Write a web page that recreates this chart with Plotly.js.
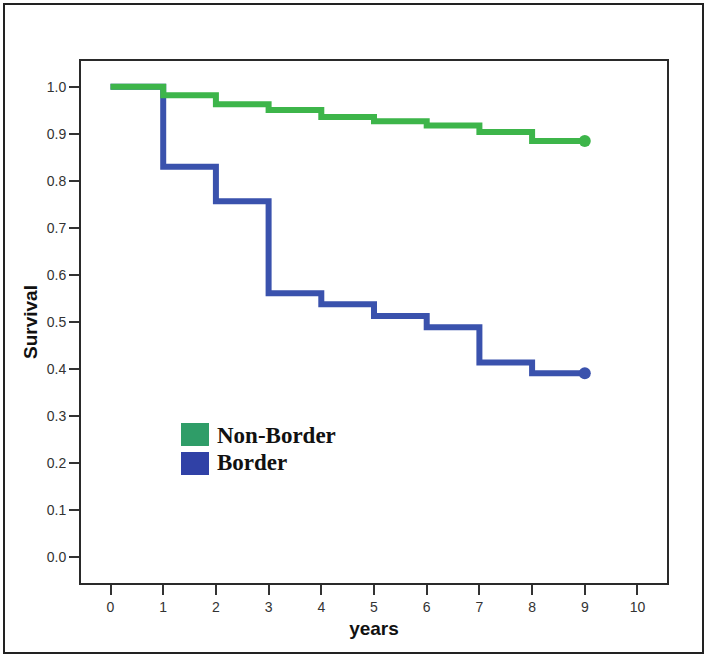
<!DOCTYPE html>
<html>
<head>
<meta charset="utf-8">
<script src="https://cdn.plot.ly/plotly-3.0.1.min.js"></script>
<style>
  html, body { margin: 0; padding: 0; background: #ffffff; }
  #wrap { position: relative; width: 705px; height: 655px; }
  #chart { position: absolute; left: 0; top: 0; width: 705px; height: 655px; }
  #frame { position: absolute; left: 3px; top: 3px; width: 697px; height: 647px;
           border: 2px solid #222; pointer-events: none; }
</style>
</head>
<body>
<div id="wrap">
  <div id="chart"></div>
  <div id="frame"></div>
</div>
<script>
// Data
var years = [0, 1, 2, 3, 4, 5, 6, 7, 8, 9];
var nonBorder = [1.0, 0.982, 0.963, 0.951, 0.936, 0.927, 0.918, 0.904, 0.885, 0.885];
var border = [1.0, 0.830, 0.757, 0.561, 0.538, 0.513, 0.489, 0.414, 0.391, 0.391];
var seriesNames = ["Non-Border", "Border"];
var xTicks = [0, 1, 2, 3, 4, 5, 6, 7, 8, 9, 10];
var yTicks = [0.0, 0.1, 0.2, 0.3, 0.4, 0.5, 0.6, 0.7, 0.8, 0.9, 1.0];

var greenLine = "#3db54a";
var blueLine = "#3a52ad";
var greenKey = "#2f9d68";
var blueKey = "#3041a6";

var last = years.length - 1;

var traces = [
  { x: years, y: border, mode: "lines", line: { shape: "hv", color: blueLine, width: 6 },
    name: seriesNames[1], showlegend: false, hoverinfo: "x+y" },
  { x: [years[last]], y: [border[last]], mode: "markers",
    marker: { color: blueLine, size: 12 }, showlegend: false, hoverinfo: "skip" },
  { x: years, y: nonBorder, mode: "lines", line: { shape: "hv", color: greenLine, width: 6 },
    name: seriesNames[0], showlegend: false, hoverinfo: "x+y" },
  { x: [years[last]], y: [nonBorder[last]], mode: "markers",
    marker: { color: greenLine, size: 12 }, showlegend: false, hoverinfo: "skip" }
];

var axisCommon = {
  showgrid: false, zeroline: false,
  showline: true, linecolor: "#2a2a2a", linewidth: 2, mirror: true,
  ticks: "outside", ticklen: 10, tickwidth: 2, tickcolor: "#333",
  tickfont: { family: "Liberation Sans, Arial, sans-serif", size: 14, color: "#333" },
  fixedrange: true
};

var titleFont = { family: "Liberation Sans, Arial, sans-serif", size: 19, color: "#111", weight: "bold" };

var layout = {
  width: 705, height: 655,
  margin: { l: 81, r: 38, t: 61, b: 72 },
  paper_bgcolor: "#ffffff", plot_bgcolor: "#ffffff",
  showlegend: false,
  xaxis: Object.assign({}, axisCommon, {
    range: [-0.56, 10.56], tickvals: xTicks, ticktext: xTicks.map(String),
    title: { text: "years", font: titleFont, standoff: 8 }
  }),
  yaxis: Object.assign({}, axisCommon, {
    range: [-0.055, 1.055], tickvals: yTicks, ticktext: yTicks.map(function (v) { return v.toFixed(1); }),
    title: { text: "Survival", font: titleFont, standoff: 4 }
  }),
  shapes: [
    { type: "rect", xref: "paper", yref: "paper", x0: 0.1706, x1: 0.2184, y0: 0.2625, y1: 0.3065,
      fillcolor: greenKey, line: { width: 0 } },
    { type: "rect", xref: "paper", yref: "paper", x0: 0.1706, x1: 0.2184, y0: 0.2069, y1: 0.2510,
      fillcolor: blueKey, line: { width: 0 } }
  ],
  annotations: [
    { xref: "paper", yref: "paper", x: 0.2287, y: 0.2835, xanchor: "left", yanchor: "middle",
      text: "<b>" + seriesNames[0] + "</b>", showarrow: false,
      font: { family: "Liberation Serif, Times New Roman, serif", size: 23, color: "#111" } },
    { xref: "paper", yref: "paper", x: 0.2287, y: 0.2299, xanchor: "left", yanchor: "middle",
      text: "<b>" + seriesNames[1] + "</b>", showarrow: false,
      font: { family: "Liberation Serif, Times New Roman, serif", size: 23, color: "#111" } }
  ]
};

Plotly.newPlot("chart", traces, layout, { displayModeBar: false, staticPlot: true });
</script>
</body>
</html>
